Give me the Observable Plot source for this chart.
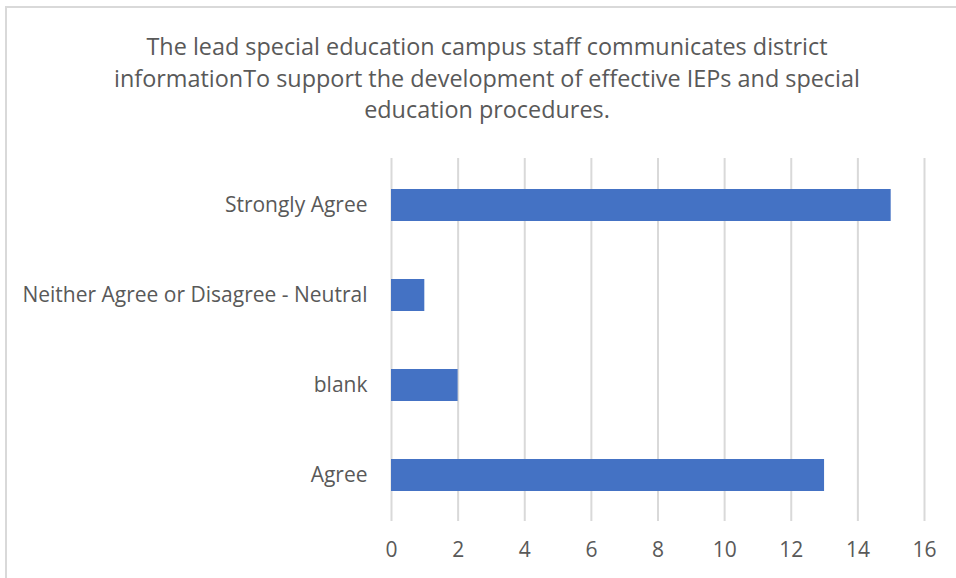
<!DOCTYPE html>
<html>
<head>
<meta charset="utf-8">
<script src="https://cdn.jsdelivr.net/npm/d3@7"></script>
<script src="https://cdn.jsdelivr.net/npm/@observablehq/plot@0.6"></script>
<style>
  body { margin: 0; background: #fff; }
  #wrap { position: relative; width: 956px; height: 578px; overflow: hidden; background: #fff; font-family: "Open Sans", sans-serif; }
  #frame { position: absolute; left: 5px; top: 6px; width: 1000px; height: 700px; border: 2px solid #d9d9d9; box-sizing: border-box; }
  #title { position: absolute; left: 6px; width: 962px; top: 31px; text-align: center; color: #595959; font-size: 23.4px; line-height: 31.5px; white-space: nowrap; }
  #chart { position: absolute; left: 0; top: 140px; }
</style>
</head>
<body>
<div id="wrap">
  <div id="frame"></div>
  <div id="title">The lead special education campus staff communicates district<br>informationTo support the development of effective IEPs and special<br>education procedures.</div>
  <div id="chart"></div>
</div>
<script>
const categories = ["Strongly Agree", "Neither Agree or Disagree - Neutral", "blank", "Agree"];
const counts = [15, 1, 2, 13];
const xTicks = [0, 2, 4, 6, 8, 10, 12, 14, 16];

const data = categories.map((c, i) => ({category: c, count: counts[i]}));

const chart = Plot.plot({
  width: 956,
  height: 438,
  marginLeft: 391,
  marginRight: 32,
  marginTop: 18,
  marginBottom: 57,
  style: {fontFamily: "Open Sans, sans-serif", color: "#595959", background: "transparent", overflow: "visible"},
  x: {domain: [0, 16]},
  y: {domain: categories, paddingInner: 0.647, paddingOuter: 0.324},
  marks: [
    Plot.ruleX(xTicks, {stroke: "#d9d9d9", strokeWidth: 2}),
    Plot.barX(data, {x: "count", y: "category", fill: "#4472c4"}),
    Plot.axisX(xTicks, {tickSize: 0, tickPadding: 21, fontSize: 21, fill: "#595959", label: null}),
    Plot.axisY({tickSize: 0, tickPadding: 24, fontSize: 21, fill: "#595959", label: null})
  ]
});
document.getElementById("chart").appendChild(chart);
</script>
</body>
</html>
